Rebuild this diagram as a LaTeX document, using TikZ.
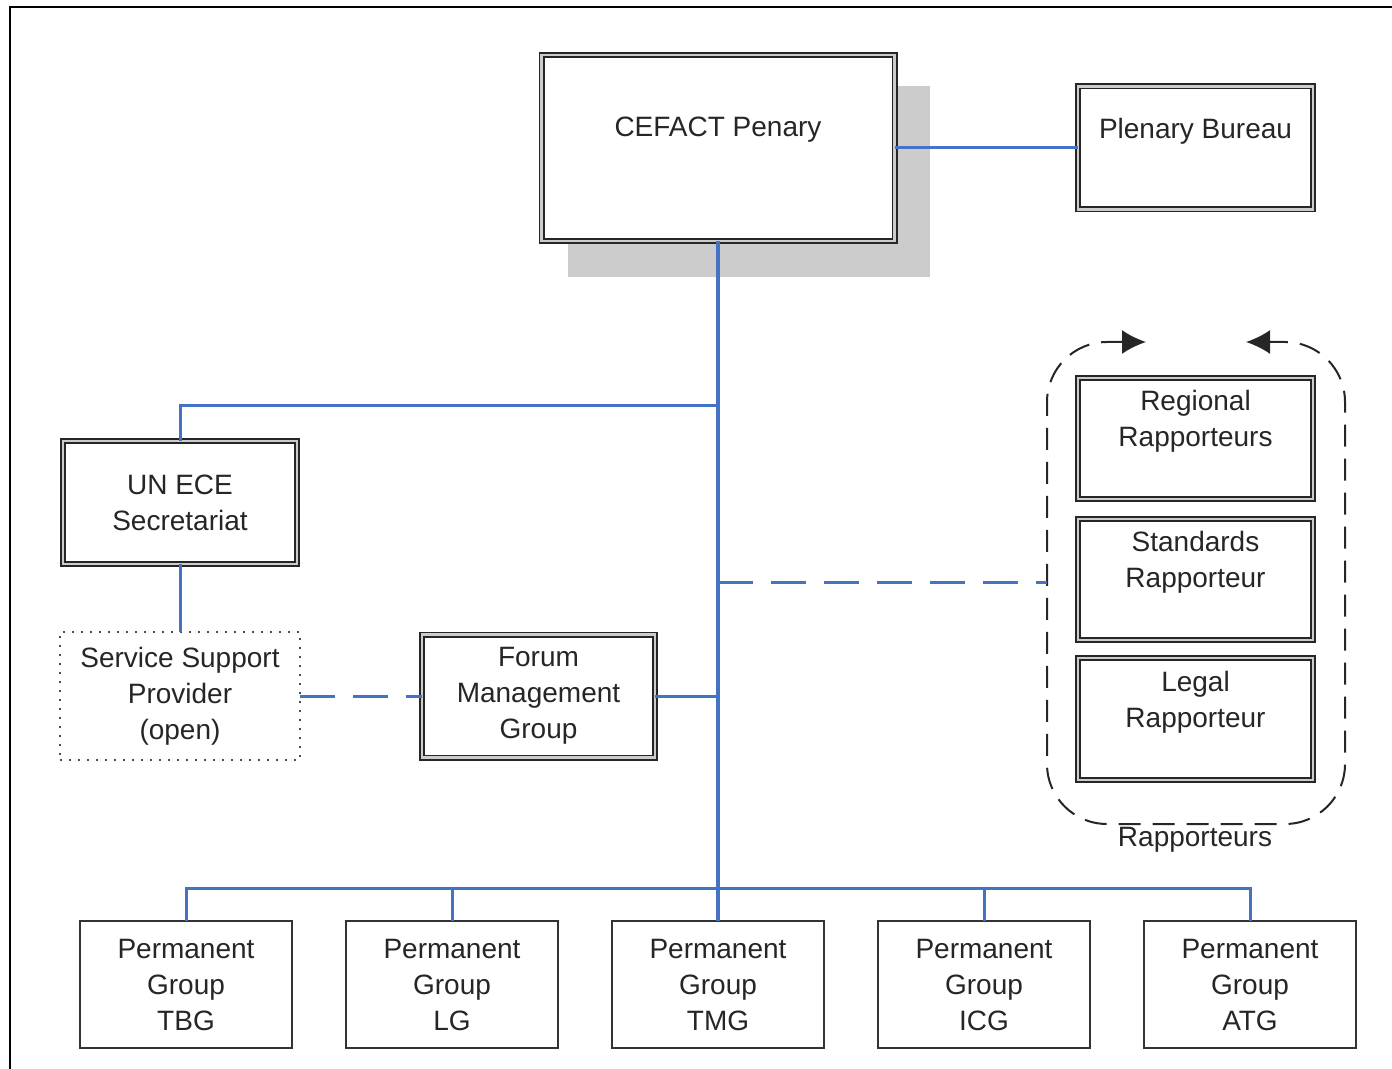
\documentclass[tikz,border=0pt]{standalone}
\usepackage{fontspec}
\setmainfont{Liberation Sans}
\usetikzlibrary{arrows.meta, positioning, shadows}
\definecolor{linkblue}{RGB}{68,114,196}

\begin{document}
\begin{tikzpicture}[
    x=0.5pt, y=-0.5pt,
    >=Latex,
    every node/.style={font=\fontsize{14}{18}\selectfont, text=black!85},
    dbox/.style={
      rectangle, draw=black!85, line width=0.8pt, double=gray!40,
      double distance=1.4pt, fill=white, align=center, inner sep=0pt,
      outer sep=0pt
    },
    rbox/.style={dbox, minimum width=117.5pt, minimum height=60.5pt},
    sbox/.style={
      rectangle, draw=black!80, line width=1.3pt, fill=white, align=center,
      minimum width=106pt, minimum height=63.5pt, inner sep=0pt, outer sep=0pt
    },
    dotbox/.style={
      rectangle, draw=black!70, line width=1pt, dash pattern=on 1pt off 3.5pt,
      align=center, inner sep=0pt, outer sep=0pt,
      minimum width=120pt, minimum height=64pt
    },
    toplabel/.style={anchor=north, inner sep=0pt, align=center},
    link/.style={draw=linkblue, line width=1.5pt},
    dlink/.style={link, dash pattern=on 17.5pt off 9pt},
    grp/.style={draw=black!85, line width=1pt, dash pattern=on 11pt off 6pt,
      rounded corners=30pt}
  ]
  \useasboundingbox (0,0) rectangle (1392,1069);
  \draw[line width=1pt] (1392,7) -- (10,7) -- (10,1069);

  \node[dbox, minimum width=176.5pt, minimum height=93pt,
    general shadow={fill=gray!40, shadow xshift=15pt, shadow yshift=-16.5pt,
      shadow scale=1.025},
    label={[toplabel, yshift=-31pt]north:CEFACT Penary}] (cef) at (718,148) {};
  \node[dbox, minimum width=117.5pt, minimum height=61.5pt,
    label={[toplabel, yshift=-15.5pt]north:Plenary Bureau}] (pb) at (1195.5,148) {};

  \node[dbox, minimum width=117pt, minimum height=61.5pt] (ece) at (180,502.5)
    {UN ECE\\Secretariat};
  \node[dotbox] (ssp) at (180,696) {Service Support\\Provider\\(open)};
  \node[dbox, minimum width=116.5pt, minimum height=61.5pt] (fmg) at (538.5,696)
    {Forum\\Management\\Group};

  \node[rbox, label={[toplabel, yshift=-6pt]north:Regional\\Rapporteurs}] (reg)
    at (1195.5,438.5) {};
  \node[rbox, below=10pt of reg,
    label={[toplabel, yshift=-6pt]north:Standards\\Rapporteur}] (std) {};
  \node[rbox, minimum height=61pt, below=9pt of std,
    label={[toplabel, yshift=-6.5pt]north:Legal\\Rapporteur}] (leg) {};
  \node (rap) at (1195,840) {Rapporteurs};

  \node[sbox] (tbg) at (186,984.5) {Permanent\\Group\\TBG};
  \node[sbox, right=27pt of tbg] (lg) {Permanent\\Group\\LG};
  \node[sbox, right=27pt of lg] (tmg) {Permanent\\Group\\TMG};
  \node[sbox, right=27pt of tmg] (icg) {Permanent\\Group\\ICG};
  \node[sbox, right=27pt of icg] (atg) {Permanent\\Group\\ATG};

  \draw[grp, {Latex[length=12pt,width=12pt]}-{Latex[length=12pt,width=12pt]}]
    (1146,342) -- (1047,342) -- (1047,824) -- (1345,824) -- (1345,342) -- (1246,342);

  \coordinate (ta) at (718,406);
  \coordinate (gw) at (1047,582);
  \coordinate (bus) at (718,888);

  \draw[link] (cef.east) -- (pb.west);
  \draw[link, line width=2pt] (cef.south) -- (tmg.north);
  \draw[link] (ece.north) |- (ta);
  \draw[link] (ece.south) -- (ssp.north);
  \draw[dlink] (ssp.east) -- (fmg.west);
  \draw[link] (fmg.east) -- (fmg.east -| cef.south);
  \draw[dlink] (gw -| cef.south) -- (gw);
  \foreach \g in {tbg, lg, icg, atg}
    \draw[link] (\g.north) |- (bus);
\end{tikzpicture}
\end{document}
